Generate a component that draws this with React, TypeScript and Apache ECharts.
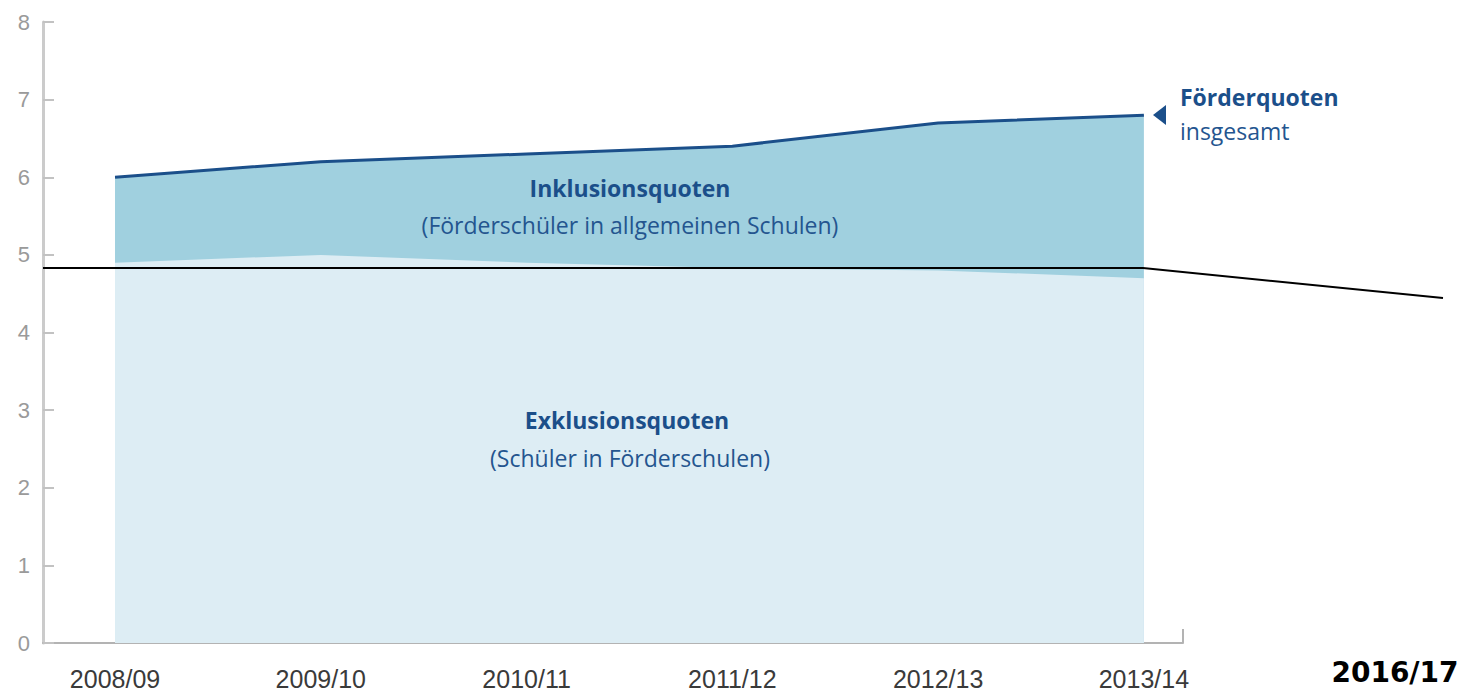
import { useEffect, useRef } from "react";
import * as echarts from "echarts";

const categories = ["2008/09", "2009/10", "2010/11", "2011/12", "2012/13", "2013/14"];
const totalQuota = [6.0, 6.2, 6.3, 6.4, 6.7, 6.8];
const exclusionQuota = [4.9, 5.0, 4.9, 4.83, 4.8, 4.7];
const categoryIndex = [0, 1, 2, 3, 4, 5];

const NARROW = "'Liberation Sans Narrow', 'Liberation Sans', sans-serif";
const SANS = "'Open Sans', 'Noto Sans', sans-serif";
const BLUE = "#1b4f8a";

export default function App() {
  const ref = useRef<HTMLDivElement>(null);
  useEffect(() => {
    if (!ref.current) return;
    const chart = echarts.init(ref.current, null, { renderer: "svg" });
    chart.setOption({
      animation: false,
      backgroundColor: "#ffffff",
      grid: { left: 43, right: 291, top: 22, bottom: 52, containLabel: false },
      xAxis: {
        type: "value",
        min: -0.35,
        max: 5.19,
        splitLine: { show: false },
        axisLine: { show: true, onZero: false, lineStyle: { color: "#b3b3b3", width: 2 } },
        axisTick: { show: false },
        axisLabel: {
          customValues: categoryIndex,
          formatter: (v: number) => categories[Math.round(v)] ?? "",
          fontSize: 25,
          fontFamily: NARROW,
          color: "#3a3a3a",
          margin: 23,
        },
      },
      yAxis: {
        type: "value",
        min: 0,
        max: 8,
        interval: 1,
        splitLine: { show: false },
        axisLine: { show: true, onZero: false, lineStyle: { color: "#cbcbcb", width: 3 } },
        axisTick: { show: true, inside: true, length: 11, lineStyle: { color: "#c2c2c2", width: 2 } },
        axisLabel: { fontSize: 22, fontFamily: NARROW, color: "#9a9a9a", margin: 13 },
      },
      series: [
        {
          name: "Förderquoten insgesamt",
          type: "line",
          data: totalQuota.map((v, i) => [categoryIndex[i], v]),
          symbol: "none",
          lineStyle: { color: BLUE, width: 3 },
          areaStyle: { color: "#a0d0df", opacity: 1 },
          z: 2,
        },
        {
          name: "Exklusionsquoten",
          type: "line",
          data: exclusionQuota.map((v, i) => [categoryIndex[i], v]),
          symbol: "none",
          lineStyle: { width: 0, color: "#ddedf4" },
          areaStyle: { color: "#ddedf4", opacity: 1 },
          z: 3,
        },
      ],
      graphic: [
        {
          type: "line",
          shape: { x1: 1183, y1: 629, x2: 1183, y2: 643 },
          style: { stroke: "#b3b3b3", lineWidth: 2 },
          z: 10,
        },
        {
          type: "polyline",
          shape: { points: [[43, 268], [1143, 268], [1443, 298]] },
          style: { stroke: "#000000", lineWidth: 2, fill: null },
          z: 20,
        },
        {
          type: "polygon",
          shape: { points: [[1166, 105], [1153, 115], [1166, 125]] },
          style: { fill: BLUE },
          z: 10,
        },
        {
          type: "text",
          x: 1180,
          y: 97,
          style: { text: "Förderquoten", font: `bold 23px ${SANS}`, fill: BLUE, textAlign: "left", textVerticalAlign: "middle" },
          z: 10,
        },
        {
          type: "text",
          x: 1180,
          y: 131,
          style: { text: "insgesamt", font: `23px ${SANS}`, fill: "#24558f", textAlign: "left", textVerticalAlign: "middle" },
          z: 10,
        },
        {
          type: "text",
          x: 630,
          y: 188,
          style: { text: "Inklusionsquoten", font: `bold 23px ${SANS}`, fill: BLUE, textAlign: "center", textVerticalAlign: "middle" },
          z: 10,
        },
        {
          type: "text",
          x: 630,
          y: 225,
          style: { text: "(Förderschüler in allgemeinen Schulen)", font: `23px ${SANS}`, fill: "#24558f", textAlign: "center", textVerticalAlign: "middle" },
          z: 10,
        },
        {
          type: "text",
          x: 627,
          y: 420,
          style: { text: "Exklusionsquoten", font: `bold 23px ${SANS}`, fill: BLUE, textAlign: "center", textVerticalAlign: "middle" },
          z: 10,
        },
        {
          type: "text",
          x: 630,
          y: 458,
          style: { text: "(Schüler in Förderschulen)", font: `23px ${SANS}`, fill: "#24558f", textAlign: "center", textVerticalAlign: "middle" },
          z: 10,
        },
        {
          type: "text",
          x: 1395,
          y: 672,
          style: { text: "2016/17", font: `bold 28px 'DejaVu Sans', sans-serif`, fill: "#000000", textAlign: "center", textVerticalAlign: "middle" },
          z: 10,
        },
      ],
    });
    return () => chart.dispose();
  }, []);
  return (
    <div
      ref={ref}
      style={{ position: "fixed", left: 0, top: 0, width: 1474, height: 695 }}
    />
  );
}
